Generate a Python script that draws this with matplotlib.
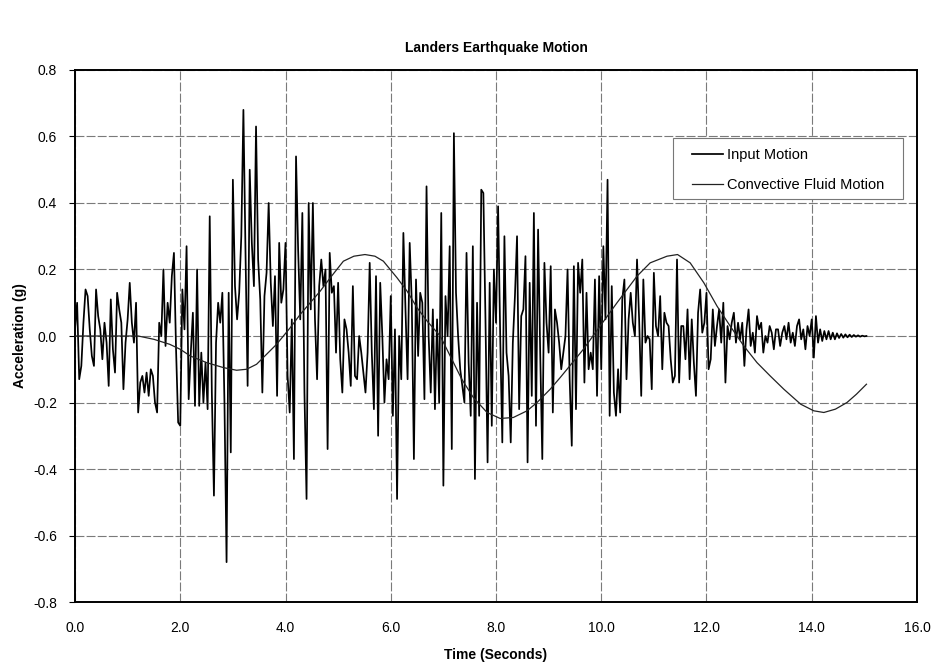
import numpy as np
import matplotlib.pyplot as plt
from matplotlib import font_manager
from matplotlib.patches import Rectangle

# pick a narrow arial-like face if there is one
names = {f.name for f in font_manager.fontManager.ttflist}
fam = 'Liberation Sans Narrow' if 'Liberation Sans Narrow' in names else 'Liberation Sans'
plt.rcParams['font.family'] = fam

dt = 0.04  # sample step of the input record (s)
input_motion = [
    # 0.00 - 2.32 s
    0.02, 0.10, -0.13, -0.09, 0.04, 0.14, 0.12, 0.02, -0.06, -0.09,
    0.14, 0.06, 0.02, -0.07, 0.04, -0.02, -0.15, 0.11, -0.04, -0.11,
    0.13, 0.08, 0.04, -0.16, -0.02, 0.05, 0.16, 0.04, -0.02, 0.10,
    -0.23, -0.14, -0.12, -0.17, -0.11, -0.18, -0.10, -0.12, -0.20, -0.23,
    0.04, 0.00, 0.20, -0.03, 0.10, 0.04, 0.18, 0.25, -0.04, -0.26,
    -0.27, 0.14, 0.02, 0.27, -0.19, -0.05, 0.07, -0.21, 0.20,
    # 2.36 - 4.64 s
    -0.21, -0.05, -0.20, -0.08, -0.22, 0.36, -0.17, -0.48, -0.02, 0.10,
    0.04, 0.13, -0.20, -0.68, 0.13, -0.35, 0.47, 0.15, 0.05, 0.13,
    0.30, 0.68, 0.25, -0.15, 0.50, 0.28, 0.15, 0.63, 0.23, 0.11,
    -0.17, 0.12, 0.19, 0.40, 0.16, 0.03, 0.18, -0.18, 0.28, 0.10,
    0.14, 0.28, -0.12, -0.23, 0.05, -0.37, 0.54, 0.26, 0.05, 0.37,
    -0.17, -0.49, 0.40, 0.08, 0.40, 0.05, -0.13, 0.15,
    # 4.68 - 7.16 s
    0.23, 0.15, 0.20, -0.34, 0.25, 0.13, 0.15, -0.05, 0.16, -0.07,
    -0.17, 0.05, 0.02, -0.05, -0.15, 0.15, -0.12, -0.13, 0.00, -0.05,
    -0.11, -0.17, -0.05, 0.22, -0.05, -0.22, 0.18, -0.30, 0.16, 0.00,
    -0.20, -0.07, -0.13, 0.12, -0.24, 0.02, -0.49, 0.00, -0.13, 0.31,
    0.08, -0.13, 0.28, 0.10, -0.37, 0.17, -0.06, 0.13, 0.10, -0.19,
    0.45, 0.00, -0.17, 0.08, -0.22, 0.05, -0.20, 0.37, -0.45, 0.12,
    0.00, 0.27, -0.34, 0.61,
    # 7.20 - 9.20 s
    0.13, 0.00, -0.10, -0.15, -0.20, 0.25, -0.08, -0.24, 0.27, -0.43,
    0.10, -0.24, 0.44, 0.43, 0.05, -0.38, 0.16, -0.27, 0.20, 0.04,
    0.39, 0.00, -0.32, 0.30, -0.05, -0.12, -0.32, -0.02, 0.12, 0.30,
    -0.22, 0.06, 0.08, 0.24, -0.38, 0.16, -0.18, 0.37, -0.27, 0.32,
    -0.05, -0.37, 0.22, 0.04, -0.05, 0.21, -0.23, 0.08, 0.04, -0.02,
    -0.10,
    # 9.24 - 11.48 s
    -0.05, 0.00, 0.20, -0.13, -0.33, 0.21, -0.22, 0.22, 0.13, 0.23,
    -0.14, 0.13, -0.10, -0.05, -0.10, 0.17, -0.18, 0.18, -0.10, 0.27,
    0.05, 0.47, -0.24, 0.15, -0.17, -0.24, -0.10, -0.23, 0.11, 0.17,
    -0.13, 0.05, 0.13, 0.04, 0.00, 0.23, 0.05, -0.18, 0.17, -0.02,
    0.00, -0.01, -0.16, 0.19, 0.03, 0.00, 0.12, -0.10, 0.07, 0.04,
    0.03, -0.07, -0.14, -0.12, 0.23, -0.14, 0.03,
    # 11.52 - 13.28 s
    0.03, -0.07, 0.08, -0.13, 0.05, -0.08, -0.18, 0.07, 0.14, 0.01,
    0.04, 0.13, -0.10, -0.07, 0.08, -0.03, 0.03, 0.08, -0.02, 0.10,
    -0.14, 0.03, -0.01, 0.04, 0.07, -0.02, 0.04, -0.01, 0.04, -0.09,
    0.02, 0.08, -0.03, 0.01, -0.05, 0.06, 0.02, 0.04, -0.05, 0.00,
    -0.02, 0.03, 0.01, -0.04, 0.02,
    # 13.32 - 15.00 s
    0.02, -0.03, 0.01, 0.03, -0.01, 0.04, -0.02, 0.01, -0.03, 0.03,
    0.05, -0.01, 0.02, -0.04, 0.03, 0.00, 0.05, -0.065, 0.06, -0.02,
    0.02, -0.015, 0.015, -0.01, 0.015, -0.01, 0.01, -0.01, 0.008, -0.006,
    0.006, -0.005, 0.005, -0.004, 0.004, -0.003, 0.003, -0.002, 0.002, -0.002,
    0.001, -0.001, 0.0,
]

conv_t = [0.0, 0.5, 1.0, 1.2, 1.5, 1.8, 2.0, 2.19, 2.5, 2.82, 3.07, 3.26,
          3.45, 3.64, 3.83, 4.09, 4.28, 4.47, 4.66, 4.85, 5.10, 5.30, 5.51,
          5.70, 5.86, 6.12, 6.31, 6.50, 6.69, 6.94, 7.13, 7.35, 7.57, 7.83,
          8.08, 8.33, 8.59, 8.78, 9.03, 9.22, 9.35, 9.66, 9.98, 10.30, 10.68,
          10.93, 11.25, 11.45, 11.69, 11.95, 12.20, 12.45, 12.71, 12.96, 13.21,
          13.47, 13.79, 14.04, 14.23, 14.45, 14.67, 14.85, 15.04]
conv_a = [0.0, 0.0, 0.0, 0.0, -0.01, -0.025, -0.04, -0.06, -0.08, -0.095, -0.103, -0.10,
          -0.085, -0.055, -0.025, 0.025, 0.065, 0.10, 0.135, 0.175, 0.225, 0.24, 0.245,
          0.24, 0.225, 0.175, 0.135, 0.085, 0.045, 0.0, -0.06, -0.13, -0.185, -0.23,
          -0.248, -0.245, -0.225, -0.20, -0.16, -0.125, -0.10, -0.04, 0.03, 0.10, 0.18,
          0.22, 0.24, 0.245, 0.22, 0.16, 0.09, 0.03, -0.03, -0.08, -0.12,
          -0.16, -0.205, -0.225, -0.23, -0.22, -0.20, -0.175, -0.145]

xticks = np.arange(0, 16.1, 2.0)
yticks = np.arange(-0.8, 0.81, 0.2)

t_in = np.arange(len(input_motion)) * dt

fig = plt.figure(figsize=(9.4, 6.69), dpi=100)
ax = fig.add_axes([0.0798, 0.1001, 0.8957, 0.7953])

ax.plot(t_in, input_motion, color='black', lw=1.25, label='Input Motion', zorder=3)
ax.plot(conv_t, conv_a, color='#222222', lw=0.9, label='Convective Fluid Motion', zorder=4)

ax.set_xlim(0, 16)
ax.set_ylim(-0.8, 0.8)
ax.set_xticks(xticks)
ax.set_yticks(yticks)
ax.set_xticklabels(['%.1f' % v for v in xticks], fontsize=10)
ax.set_yticklabels(['%.1f' % (0.0 if abs(v) < 1e-9 else v) for v in yticks], fontsize=10)
ax.tick_params(axis='x', length=0, pad=14)
ax.tick_params(axis='y', length=4, pad=9)
ax.grid(True, color='#7a7a7a', lw=0.8, linestyle=(0, (8, 2)))
for s in ax.spines.values():
    s.set_linewidth(1.4)

ax.set_title('Landers Earthquake Motion', fontsize=10, fontweight='bold', pad=13)
ax.set_xlabel('Time (Seconds)', fontsize=10, fontweight='bold')
ax.xaxis.set_label_coords(0.5, -0.10)
ax.xaxis.label.set_va('center')
ax.set_ylabel('Acceleration (g)', fontsize=10, fontweight='bold')
ax.yaxis.set_label_coords(-0.065, 0.5)
ax.yaxis.label.set_va('center')

# legend box drawn separately so the padding can be wider than tall
box = Rectangle((0.7102, 0.7575), 0.2732, 0.1147, transform=ax.transAxes,
                facecolor='white', edgecolor='#777777', lw=0.8, zorder=5)
ax.add_patch(box)
leg = ax.legend(loc='upper left', bbox_to_anchor=(0.7328, 0.853), fontsize=10.5,
                frameon=False, borderaxespad=0, borderpad=0,
                handlelength=2.1, handletextpad=0.3, labelspacing=1.1)
leg.set_zorder(6)

fig.savefig('out.png', dpi=100)
